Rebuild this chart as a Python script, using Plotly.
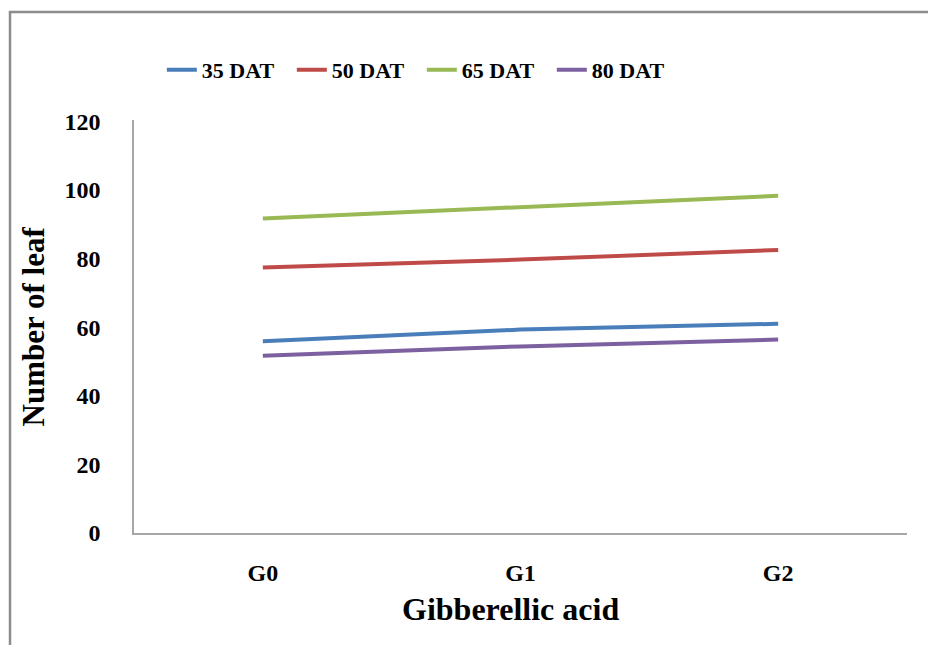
import plotly.graph_objects as go

# Gibberellic acid treatments and leaf counts at each sampling date
treatments = ["G0", "G1", "G2"]
series_names = ["35 DAT", "50 DAT", "65 DAT", "80 DAT"]
leaf_35 = [55.9, 59.3, 61.0]
leaf_50 = [77.4, 79.7, 82.5]
leaf_65 = [91.7, 95.1, 98.3]
leaf_80 = [51.7, 54.4, 56.4]
y_ticks = [0, 20, 40, 60, 80, 100, 120]

colors = ["#4A7EBB", "#BE4B48", "#98B954", "#7D60A0"]
serif = "Liberation Serif"

fig = go.Figure()
for name, vals, col in zip(series_names, [leaf_35, leaf_50, leaf_65, leaf_80], colors):
    fig.add_trace(go.Scatter(
        x=treatments, y=vals, name=name, mode="lines",
        line=dict(color=col, width=4),
    ))

fig.update_layout(
    width=928, height=645,
    margin=dict(l=134, r=21, t=120, b=112),
    paper_bgcolor="white", plot_bgcolor="white",
    font=dict(family=serif, color="black"),
    showlegend=True,
    legend=dict(
        orientation="h", x=0.036, xanchor="left", y=1.121, yanchor="middle",
        font=dict(family=serif, size=22, color="black", weight="bold"),
        entrywidth=85, itemwidth=30,
    ),
    xaxis=dict(
        range=[-0.5, 2.5], showgrid=False, zeroline=False,
        showline=True, linecolor="#A6A6A6", linewidth=1.5,
        ticks="", ticklabelstandoff=17,
        tickfont=dict(family=serif, size=24, color="black", weight="bold"),
    ),
    yaxis=dict(
        range=[0, 120.4], tickvals=y_ticks, showgrid=False, zeroline=False,
        showline=True, linecolor="#A6A6A6", linewidth=1.5,
        ticks="", ticklabelstandoff=27,
        tickfont=dict(family=serif, size=24, color="black", weight="bold"),
    ),
    annotations=[
        dict(text="Gibberellic acid", xref="paper", yref="paper",
             x=0.4877, y=-0.184, showarrow=False, xanchor="center", yanchor="middle",
             font=dict(family=serif, size=32, color="black", weight="bold")),
        dict(text="Number of leaf", xref="paper", yref="paper",
             x=-0.13, y=0.499, showarrow=False, textangle=-90,
             xanchor="center", yanchor="middle",
             font=dict(family=serif, size=31, color="black", weight="bold")),
    ],
    shapes=[
        dict(type="rect", xref="paper", yref="paper",
             x0=-0.1604, y0=-0.4, x1=1.2, y1=1.2615,
             line=dict(color="#8C8C8C", width=2.5), layer="below"),
    ],
)

fig.write_html("out.html")
